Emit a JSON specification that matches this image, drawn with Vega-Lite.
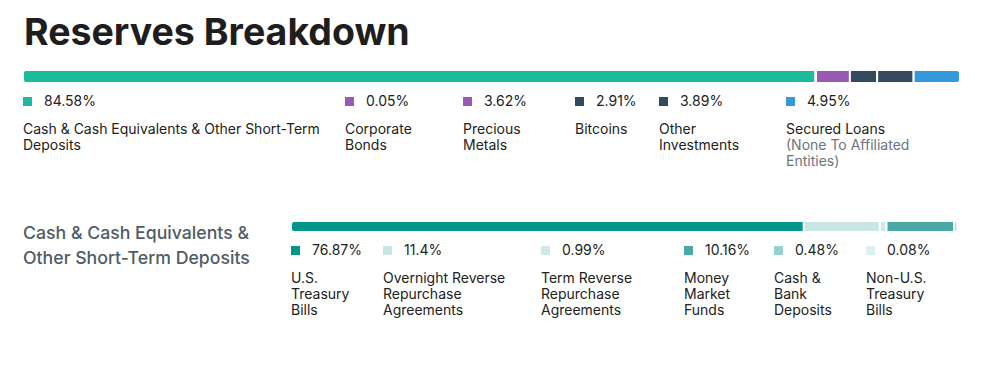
{
  "$schema": "https://vega.github.io/schema/vega-lite/v6.json",
  "background": "#ffffff",
  "padding": {"left": 22, "top": 14, "right": 25, "bottom": 10},
  "title": {"text": "Reserves Breakdown", "anchor": "start", "font": "Inter", "fontSize": 37.5, "fontWeight": 700, "color": "#1e1e1e", "baseline": "bottom", "offset": -21, "dx": 2},
  "config": {"font": "Inter", "view": {"stroke": null}},
  "datasets": {
    "reserves": [
      {"group": "top", "rank": 1, "item": "Cash & Cash Equivalents & Other Short-Term Deposits", "label": "Cash & Cash Equivalents & Other Short-Term\nDeposits", "share": 0.8458},
      {"group": "top", "rank": 2, "item": "Corporate Bonds", "label": "Corporate\nBonds", "share": 0.0005},
      {"group": "top", "rank": 3, "item": "Precious Metals", "label": "Precious\nMetals", "share": 0.0362},
      {"group": "top", "rank": 4, "item": "Bitcoins", "label": "Bitcoins", "share": 0.0291},
      {"group": "top", "rank": 5, "item": "Other Investments", "label": "Other\nInvestments", "share": 0.0389},
      {"group": "top", "rank": 6, "item": "Secured Loans", "label": "Secured Loans", "note": "(None To Affiliated\nEntities)", "share": 0.0495},
      {"group": "cash", "rank": 1, "item": "U.S. Treasury Bills", "label": "U.S.\nTreasury\nBills", "share": 0.7687},
      {"group": "cash", "rank": 2, "item": "Overnight Reverse Repurchase Agreements", "label": "Overnight Reverse\nRepurchase\nAgreements", "share": 0.114},
      {"group": "cash", "rank": 3, "item": "Term Reverse Repurchase Agreements", "label": "Term Reverse\nRepurchase\nAgreements", "share": 0.0099},
      {"group": "cash", "rank": 4, "item": "Money Market Funds", "label": "Money\nMarket\nFunds", "share": 0.1016},
      {"group": "cash", "rank": 5, "item": "Cash & Bank Deposits", "label": "Cash &\nBank\nDeposits", "share": 0.0048},
      {"group": "cash", "rank": 6, "item": "Non-U.S. Treasury Bills", "label": "Non-U.S.\nTreasury\nBills", "share": 0.0008}
    ],
    "headings": [
      {"heading": "Cash & Cash Equivalents &\nOther Short-Term Deposits"}
    ]
  },
  "spacing": 11,
  "vconcat": [
    {
      "width": 937, "height": 13,
      "data": {"name": "reserves"},
      "transform": [{"filter": {"field": "group", "equal": "top"}}],
      "mark": {"type": "bar", "cornerRadius": 3, "stroke": "#ffffff", "strokeWidth": 2},
      "encoding": {
        "x": {"field": "share", "type": "quantitative", "stack": "normalize", "axis": null},
        "y": {"field": "group", "type": "nominal", "axis": null, "scale": {"padding": 0}},
        "order": {"field": "rank", "type": "quantitative"},
        "color": {"field": "item", "type": "nominal", "legend": null, "scale": {"domain": ["Cash & Cash Equivalents & Other Short-Term Deposits", "Corporate Bonds", "Precious Metals", "Bitcoins", "Other Investments", "Secured Loans", "U.S. Treasury Bills", "Overnight Reverse Repurchase Agreements", "Term Reverse Repurchase Agreements", "Money Market Funds", "Cash & Bank Deposits", "Non-U.S. Treasury Bills"], "range": ["#1abc9c", "#9b59b6", "#9b59b6", "#34495e", "#34495e", "#3498db", "#00968a", "#c8e6e6", "#cce8e8", "#4aa9a7", "#96d2cf", "#e0f0f0"]}}
      }
    },
    {
      "spacing": 0,
      "hconcat": [
        {"width": 322, "height": 112, "data": {"name": "reserves"}, "transform": [{"filter": {"field": "item", "equal": "Cash & Cash Equivalents & Other Short-Term Deposits"}}],
         "encoding": {"x": {"field": "item", "type": "nominal", "axis": null, "scale": {"type": "point", "padding": 0, "align": 0}}, "y": {"field": "item", "type": "nominal", "axis": null, "scale": {"type": "point", "padding": 0, "align": 0}}},
         "layer": [
           {"mark": {"type": "point", "shape": "M0,0h2v2h-2z", "size": 81, "filled": true, "opacity": 1}, "encoding": {"color": {"field": "item", "type": "nominal", "legend": null, "scale": {"domain": ["Cash & Cash Equivalents & Other Short-Term Deposits", "Corporate Bonds", "Precious Metals", "Bitcoins", "Other Investments", "Secured Loans", "U.S. Treasury Bills", "Overnight Reverse Repurchase Agreements", "Term Reverse Repurchase Agreements", "Money Market Funds", "Cash & Bank Deposits", "Non-U.S. Treasury Bills"], "range": ["#1abc9c", "#9b59b6", "#9b59b6", "#34495e", "#34495e", "#3498db", "#00968a", "#c8e6e6", "#cce8e8", "#4aa9a7", "#96d2cf", "#e0f0f0"]}}}},
           {"mark": {"type": "text", "align": "left", "baseline": "alphabetic", "dx": 21, "dy": 9, "fontSize": 14, "color": "#222222"}, "encoding": {"text": {"field": "share", "type": "quantitative", "format": ".2~%"}}},
           {"mark": {"type": "text", "align": "left", "baseline": "alphabetic", "dy": 37, "fontSize": 14, "lineHeight": 16, "lineBreak": "\n", "color": "#222222"}, "encoding": {"text": {"field": "label"}}}
         ]},
        {"width": 118, "height": 112, "data": {"name": "reserves"}, "transform": [{"filter": {"field": "item", "equal": "Corporate Bonds"}}],
         "encoding": {"x": {"field": "item", "type": "nominal", "axis": null, "scale": {"type": "point", "padding": 0, "align": 0}}, "y": {"field": "item", "type": "nominal", "axis": null, "scale": {"type": "point", "padding": 0, "align": 0}}},
         "layer": [
           {"mark": {"type": "point", "shape": "M0,0h2v2h-2z", "size": 81, "filled": true, "opacity": 1}, "encoding": {"color": {"field": "item", "type": "nominal", "legend": null, "scale": {"domain": ["Cash & Cash Equivalents & Other Short-Term Deposits", "Corporate Bonds", "Precious Metals", "Bitcoins", "Other Investments", "Secured Loans", "U.S. Treasury Bills", "Overnight Reverse Repurchase Agreements", "Term Reverse Repurchase Agreements", "Money Market Funds", "Cash & Bank Deposits", "Non-U.S. Treasury Bills"], "range": ["#1abc9c", "#9b59b6", "#9b59b6", "#34495e", "#34495e", "#3498db", "#00968a", "#c8e6e6", "#cce8e8", "#4aa9a7", "#96d2cf", "#e0f0f0"]}}}},
           {"mark": {"type": "text", "align": "left", "baseline": "alphabetic", "dx": 21, "dy": 9, "fontSize": 14, "color": "#222222"}, "encoding": {"text": {"field": "share", "type": "quantitative", "format": ".2~%"}}},
           {"mark": {"type": "text", "align": "left", "baseline": "alphabetic", "dy": 37, "fontSize": 14, "lineHeight": 16, "lineBreak": "\n", "color": "#222222"}, "encoding": {"text": {"field": "label"}}}
         ]},
        {"width": 112, "height": 112, "data": {"name": "reserves"}, "transform": [{"filter": {"field": "item", "equal": "Precious Metals"}}],
         "encoding": {"x": {"field": "item", "type": "nominal", "axis": null, "scale": {"type": "point", "padding": 0, "align": 0}}, "y": {"field": "item", "type": "nominal", "axis": null, "scale": {"type": "point", "padding": 0, "align": 0}}},
         "layer": [
           {"mark": {"type": "point", "shape": "M0,0h2v2h-2z", "size": 81, "filled": true, "opacity": 1}, "encoding": {"color": {"field": "item", "type": "nominal", "legend": null, "scale": {"domain": ["Cash & Cash Equivalents & Other Short-Term Deposits", "Corporate Bonds", "Precious Metals", "Bitcoins", "Other Investments", "Secured Loans", "U.S. Treasury Bills", "Overnight Reverse Repurchase Agreements", "Term Reverse Repurchase Agreements", "Money Market Funds", "Cash & Bank Deposits", "Non-U.S. Treasury Bills"], "range": ["#1abc9c", "#9b59b6", "#9b59b6", "#34495e", "#34495e", "#3498db", "#00968a", "#c8e6e6", "#cce8e8", "#4aa9a7", "#96d2cf", "#e0f0f0"]}}}},
           {"mark": {"type": "text", "align": "left", "baseline": "alphabetic", "dx": 21, "dy": 9, "fontSize": 14, "color": "#222222"}, "encoding": {"text": {"field": "share", "type": "quantitative", "format": ".2~%"}}},
           {"mark": {"type": "text", "align": "left", "baseline": "alphabetic", "dy": 37, "fontSize": 14, "lineHeight": 16, "lineBreak": "\n", "color": "#222222"}, "encoding": {"text": {"field": "label"}}}
         ]},
        {"width": 84, "height": 112, "data": {"name": "reserves"}, "transform": [{"filter": {"field": "item", "equal": "Bitcoins"}}],
         "encoding": {"x": {"field": "item", "type": "nominal", "axis": null, "scale": {"type": "point", "padding": 0, "align": 0}}, "y": {"field": "item", "type": "nominal", "axis": null, "scale": {"type": "point", "padding": 0, "align": 0}}},
         "layer": [
           {"mark": {"type": "point", "shape": "M0,0h2v2h-2z", "size": 81, "filled": true, "opacity": 1}, "encoding": {"color": {"field": "item", "type": "nominal", "legend": null, "scale": {"domain": ["Cash & Cash Equivalents & Other Short-Term Deposits", "Corporate Bonds", "Precious Metals", "Bitcoins", "Other Investments", "Secured Loans", "U.S. Treasury Bills", "Overnight Reverse Repurchase Agreements", "Term Reverse Repurchase Agreements", "Money Market Funds", "Cash & Bank Deposits", "Non-U.S. Treasury Bills"], "range": ["#1abc9c", "#9b59b6", "#9b59b6", "#34495e", "#34495e", "#3498db", "#00968a", "#c8e6e6", "#cce8e8", "#4aa9a7", "#96d2cf", "#e0f0f0"]}}}},
           {"mark": {"type": "text", "align": "left", "baseline": "alphabetic", "dx": 21, "dy": 9, "fontSize": 14, "color": "#222222"}, "encoding": {"text": {"field": "share", "type": "quantitative", "format": ".2~%"}}},
           {"mark": {"type": "text", "align": "left", "baseline": "alphabetic", "dy": 37, "fontSize": 14, "lineHeight": 16, "lineBreak": "\n", "color": "#222222"}, "encoding": {"text": {"field": "label"}}}
         ]},
        {"width": 127, "height": 112, "data": {"name": "reserves"}, "transform": [{"filter": {"field": "item", "equal": "Other Investments"}}],
         "encoding": {"x": {"field": "item", "type": "nominal", "axis": null, "scale": {"type": "point", "padding": 0, "align": 0}}, "y": {"field": "item", "type": "nominal", "axis": null, "scale": {"type": "point", "padding": 0, "align": 0}}},
         "layer": [
           {"mark": {"type": "point", "shape": "M0,0h2v2h-2z", "size": 81, "filled": true, "opacity": 1}, "encoding": {"color": {"field": "item", "type": "nominal", "legend": null, "scale": {"domain": ["Cash & Cash Equivalents & Other Short-Term Deposits", "Corporate Bonds", "Precious Metals", "Bitcoins", "Other Investments", "Secured Loans", "U.S. Treasury Bills", "Overnight Reverse Repurchase Agreements", "Term Reverse Repurchase Agreements", "Money Market Funds", "Cash & Bank Deposits", "Non-U.S. Treasury Bills"], "range": ["#1abc9c", "#9b59b6", "#9b59b6", "#34495e", "#34495e", "#3498db", "#00968a", "#c8e6e6", "#cce8e8", "#4aa9a7", "#96d2cf", "#e0f0f0"]}}}},
           {"mark": {"type": "text", "align": "left", "baseline": "alphabetic", "dx": 21, "dy": 9, "fontSize": 14, "color": "#222222"}, "encoding": {"text": {"field": "share", "type": "quantitative", "format": ".2~%"}}},
           {"mark": {"type": "text", "align": "left", "baseline": "alphabetic", "dy": 37, "fontSize": 14, "lineHeight": 16, "lineBreak": "\n", "color": "#222222"}, "encoding": {"text": {"field": "label"}}}
         ]},
        {"width": 174, "height": 112, "data": {"name": "reserves"}, "transform": [{"filter": {"field": "item", "equal": "Secured Loans"}}],
         "encoding": {"x": {"field": "item", "type": "nominal", "axis": null, "scale": {"type": "point", "padding": 0, "align": 0}}, "y": {"field": "item", "type": "nominal", "axis": null, "scale": {"type": "point", "padding": 0, "align": 0}}},
         "layer": [
           {"mark": {"type": "point", "shape": "M0,0h2v2h-2z", "size": 81, "filled": true, "opacity": 1}, "encoding": {"color": {"field": "item", "type": "nominal", "legend": null, "scale": {"domain": ["Cash & Cash Equivalents & Other Short-Term Deposits", "Corporate Bonds", "Precious Metals", "Bitcoins", "Other Investments", "Secured Loans", "U.S. Treasury Bills", "Overnight Reverse Repurchase Agreements", "Term Reverse Repurchase Agreements", "Money Market Funds", "Cash & Bank Deposits", "Non-U.S. Treasury Bills"], "range": ["#1abc9c", "#9b59b6", "#9b59b6", "#34495e", "#34495e", "#3498db", "#00968a", "#c8e6e6", "#cce8e8", "#4aa9a7", "#96d2cf", "#e0f0f0"]}}}},
           {"mark": {"type": "text", "align": "left", "baseline": "alphabetic", "dx": 21, "dy": 9, "fontSize": 14, "color": "#222222"}, "encoding": {"text": {"field": "share", "type": "quantitative", "format": ".2~%"}}},
           {"mark": {"type": "text", "align": "left", "baseline": "alphabetic", "dy": 37, "fontSize": 14, "lineHeight": 16, "lineBreak": "\n", "color": "#222222"}, "encoding": {"text": {"field": "label"}}},
           {"mark": {"type": "text", "align": "left", "baseline": "alphabetic", "dy": 53, "fontSize": 14, "lineHeight": 16, "lineBreak": "\n", "color": "#6c757d"}, "encoding": {"text": {"field": "note"}}}
         ]}
      ]
    },
    {
      "spacing": 0,
      "hconcat": [
        {"width": 267, "height": 100, "data": {"name": "headings"},
         "mark": {"type": "text", "align": "left", "baseline": "alphabetic", "dy": 18, "fontSize": 17.7, "fontWeight": 500, "lineHeight": 25, "lineBreak": "\n", "color": "#515b66"},
         "encoding": {
           "x": {"field": "heading", "type": "nominal", "axis": null, "scale": {"type": "point", "padding": 0, "align": 0}},
           "y": {"field": "heading", "type": "nominal", "axis": null, "scale": {"type": "point", "padding": 0, "align": 0}},
           "text": {"field": "heading"}
         }},
        {
          "spacing": 11,
          "vconcat": [
            {
              "width": 667, "height": 11,
              "data": {"name": "reserves"},
              "transform": [{"filter": {"field": "group", "equal": "cash"}}],
              "mark": {"type": "bar", "cornerRadius": 3, "stroke": "#ffffff", "strokeWidth": 2},
              "encoding": {
                "x": {"field": "share", "type": "quantitative", "stack": "normalize", "axis": null},
                "y": {"field": "group", "type": "nominal", "axis": null, "scale": {"padding": 0}},
                "order": {"field": "rank", "type": "quantitative"},
                "color": {"field": "item", "type": "nominal", "legend": null, "scale": {"domain": ["Cash & Cash Equivalents & Other Short-Term Deposits", "Corporate Bonds", "Precious Metals", "Bitcoins", "Other Investments", "Secured Loans", "U.S. Treasury Bills", "Overnight Reverse Repurchase Agreements", "Term Reverse Repurchase Agreements", "Money Market Funds", "Cash & Bank Deposits", "Non-U.S. Treasury Bills"], "range": ["#1abc9c", "#9b59b6", "#9b59b6", "#34495e", "#34495e", "#3498db", "#00968a", "#c8e6e6", "#cce8e8", "#4aa9a7", "#96d2cf", "#e0f0f0"]}}
              }
            },
            {
              "spacing": 0,
              "hconcat": [
                {"width": 92, "height": 80, "data": {"name": "reserves"}, "transform": [{"filter": {"field": "item", "equal": "U.S. Treasury Bills"}}],
                 "encoding": {"x": {"field": "item", "type": "nominal", "axis": null, "scale": {"type": "point", "padding": 0, "align": 0}}, "y": {"field": "item", "type": "nominal", "axis": null, "scale": {"type": "point", "padding": 0, "align": 0}}},
                 "layer": [
                   {"mark": {"type": "point", "shape": "M0,0h2v2h-2z", "size": 81, "filled": true, "opacity": 1}, "encoding": {"color": {"field": "item", "type": "nominal", "legend": null, "scale": {"domain": ["Cash & Cash Equivalents & Other Short-Term Deposits", "Corporate Bonds", "Precious Metals", "Bitcoins", "Other Investments", "Secured Loans", "U.S. Treasury Bills", "Overnight Reverse Repurchase Agreements", "Term Reverse Repurchase Agreements", "Money Market Funds", "Cash & Bank Deposits", "Non-U.S. Treasury Bills"], "range": ["#1abc9c", "#9b59b6", "#9b59b6", "#34495e", "#34495e", "#3498db", "#00968a", "#c8e6e6", "#cce8e8", "#4aa9a7", "#96d2cf", "#e0f0f0"]}}}},
                   {"mark": {"type": "text", "align": "left", "baseline": "alphabetic", "dx": 21, "dy": 9, "fontSize": 14, "color": "#222222"}, "encoding": {"text": {"field": "share", "type": "quantitative", "format": ".2~%"}}},
                   {"mark": {"type": "text", "align": "left", "baseline": "alphabetic", "dy": 37, "fontSize": 14, "lineHeight": 16, "lineBreak": "\n", "color": "#222222"}, "encoding": {"text": {"field": "label"}}}
                 ]},
                {"width": 158, "height": 80, "data": {"name": "reserves"}, "transform": [{"filter": {"field": "item", "equal": "Overnight Reverse Repurchase Agreements"}}],
                 "encoding": {"x": {"field": "item", "type": "nominal", "axis": null, "scale": {"type": "point", "padding": 0, "align": 0}}, "y": {"field": "item", "type": "nominal", "axis": null, "scale": {"type": "point", "padding": 0, "align": 0}}},
                 "layer": [
                   {"mark": {"type": "point", "shape": "M0,0h2v2h-2z", "size": 81, "filled": true, "opacity": 1}, "encoding": {"color": {"field": "item", "type": "nominal", "legend": null, "scale": {"domain": ["Cash & Cash Equivalents & Other Short-Term Deposits", "Corporate Bonds", "Precious Metals", "Bitcoins", "Other Investments", "Secured Loans", "U.S. Treasury Bills", "Overnight Reverse Repurchase Agreements", "Term Reverse Repurchase Agreements", "Money Market Funds", "Cash & Bank Deposits", "Non-U.S. Treasury Bills"], "range": ["#1abc9c", "#9b59b6", "#9b59b6", "#34495e", "#34495e", "#3498db", "#00968a", "#c8e6e6", "#cce8e8", "#4aa9a7", "#96d2cf", "#e0f0f0"]}}}},
                   {"mark": {"type": "text", "align": "left", "baseline": "alphabetic", "dx": 21, "dy": 9, "fontSize": 14, "color": "#222222"}, "encoding": {"text": {"field": "share", "type": "quantitative", "format": ".2~%"}}},
                   {"mark": {"type": "text", "align": "left", "baseline": "alphabetic", "dy": 37, "fontSize": 14, "lineHeight": 16, "lineBreak": "\n", "color": "#222222"}, "encoding": {"text": {"field": "label"}}}
                 ]},
                {"width": 143, "height": 80, "data": {"name": "reserves"}, "transform": [{"filter": {"field": "item", "equal": "Term Reverse Repurchase Agreements"}}],
                 "encoding": {"x": {"field": "item", "type": "nominal", "axis": null, "scale": {"type": "point", "padding": 0, "align": 0}}, "y": {"field": "item", "type": "nominal", "axis": null, "scale": {"type": "point", "padding": 0, "align": 0}}},
                 "layer": [
                   {"mark": {"type": "point", "shape": "M0,0h2v2h-2z", "size": 81, "filled": true, "opacity": 1}, "encoding": {"color": {"field": "item", "type": "nominal", "legend": null, "scale": {"domain": ["Cash & Cash Equivalents & Other Short-Term Deposits", "Corporate Bonds", "Precious Metals", "Bitcoins", "Other Investments", "Secured Loans", "U.S. Treasury Bills", "Overnight Reverse Repurchase Agreements", "Term Reverse Repurchase Agreements", "Money Market Funds", "Cash & Bank Deposits", "Non-U.S. Treasury Bills"], "range": ["#1abc9c", "#9b59b6", "#9b59b6", "#34495e", "#34495e", "#3498db", "#00968a", "#c8e6e6", "#cce8e8", "#4aa9a7", "#96d2cf", "#e0f0f0"]}}}},
                   {"mark": {"type": "text", "align": "left", "baseline": "alphabetic", "dx": 21, "dy": 9, "fontSize": 14, "color": "#222222"}, "encoding": {"text": {"field": "share", "type": "quantitative", "format": ".2~%"}}},
                   {"mark": {"type": "text", "align": "left", "baseline": "alphabetic", "dy": 37, "fontSize": 14, "lineHeight": 16, "lineBreak": "\n", "color": "#222222"}, "encoding": {"text": {"field": "label"}}}
                 ]},
                {"width": 90, "height": 80, "data": {"name": "reserves"}, "transform": [{"filter": {"field": "item", "equal": "Money Market Funds"}}],
                 "encoding": {"x": {"field": "item", "type": "nominal", "axis": null, "scale": {"type": "point", "padding": 0, "align": 0}}, "y": {"field": "item", "type": "nominal", "axis": null, "scale": {"type": "point", "padding": 0, "align": 0}}},
                 "layer": [
                   {"mark": {"type": "point", "shape": "M0,0h2v2h-2z", "size": 81, "filled": true, "opacity": 1}, "encoding": {"color": {"field": "item", "type": "nominal", "legend": null, "scale": {"domain": ["Cash & Cash Equivalents & Other Short-Term Deposits", "Corporate Bonds", "Precious Metals", "Bitcoins", "Other Investments", "Secured Loans", "U.S. Treasury Bills", "Overnight Reverse Repurchase Agreements", "Term Reverse Repurchase Agreements", "Money Market Funds", "Cash & Bank Deposits", "Non-U.S. Treasury Bills"], "range": ["#1abc9c", "#9b59b6", "#9b59b6", "#34495e", "#34495e", "#3498db", "#00968a", "#c8e6e6", "#cce8e8", "#4aa9a7", "#96d2cf", "#e0f0f0"]}}}},
                   {"mark": {"type": "text", "align": "left", "baseline": "alphabetic", "dx": 21, "dy": 9, "fontSize": 14, "color": "#222222"}, "encoding": {"text": {"field": "share", "type": "quantitative", "format": ".2~%"}}},
                   {"mark": {"type": "text", "align": "left", "baseline": "alphabetic", "dy": 37, "fontSize": 14, "lineHeight": 16, "lineBreak": "\n", "color": "#222222"}, "encoding": {"text": {"field": "label"}}}
                 ]},
                {"width": 92, "height": 80, "data": {"name": "reserves"}, "transform": [{"filter": {"field": "item", "equal": "Cash & Bank Deposits"}}],
                 "encoding": {"x": {"field": "item", "type": "nominal", "axis": null, "scale": {"type": "point", "padding": 0, "align": 0}}, "y": {"field": "item", "type": "nominal", "axis": null, "scale": {"type": "point", "padding": 0, "align": 0}}},
                 "layer": [
                   {"mark": {"type": "point", "shape": "M0,0h2v2h-2z", "size": 81, "filled": true, "opacity": 1}, "encoding": {"color": {"field": "item", "type": "nominal", "legend": null, "scale": {"domain": ["Cash & Cash Equivalents & Other Short-Term Deposits", "Corporate Bonds", "Precious Metals", "Bitcoins", "Other Investments", "Secured Loans", "U.S. Treasury Bills", "Overnight Reverse Repurchase Agreements", "Term Reverse Repurchase Agreements", "Money Market Funds", "Cash & Bank Deposits", "Non-U.S. Treasury Bills"], "range": ["#1abc9c", "#9b59b6", "#9b59b6", "#34495e", "#34495e", "#3498db", "#00968a", "#c8e6e6", "#cce8e8", "#4aa9a7", "#96d2cf", "#e0f0f0"]}}}},
                   {"mark": {"type": "text", "align": "left", "baseline": "alphabetic", "dx": 21, "dy": 9, "fontSize": 14, "color": "#222222"}, "encoding": {"text": {"field": "share", "type": "quantitative", "format": ".2~%"}}},
                   {"mark": {"type": "text", "align": "left", "baseline": "alphabetic", "dy": 37, "fontSize": 14, "lineHeight": 16, "lineBreak": "\n", "color": "#222222"}, "encoding": {"text": {"field": "label"}}}
                 ]},
                {"width": 92, "height": 80, "data": {"name": "reserves"}, "transform": [{"filter": {"field": "item", "equal": "Non-U.S. Treasury Bills"}}],
                 "encoding": {"x": {"field": "item", "type": "nominal", "axis": null, "scale": {"type": "point", "padding": 0, "align": 0}}, "y": {"field": "item", "type": "nominal", "axis": null, "scale": {"type": "point", "padding": 0, "align": 0}}},
                 "layer": [
                   {"mark": {"type": "point", "shape": "M0,0h2v2h-2z", "size": 81, "filled": true, "opacity": 1}, "encoding": {"color": {"field": "item", "type": "nominal", "legend": null, "scale": {"domain": ["Cash & Cash Equivalents & Other Short-Term Deposits", "Corporate Bonds", "Precious Metals", "Bitcoins", "Other Investments", "Secured Loans", "U.S. Treasury Bills", "Overnight Reverse Repurchase Agreements", "Term Reverse Repurchase Agreements", "Money Market Funds", "Cash & Bank Deposits", "Non-U.S. Treasury Bills"], "range": ["#1abc9c", "#9b59b6", "#9b59b6", "#34495e", "#34495e", "#3498db", "#00968a", "#c8e6e6", "#cce8e8", "#4aa9a7", "#96d2cf", "#e0f0f0"]}}}},
                   {"mark": {"type": "text", "align": "left", "baseline": "alphabetic", "dx": 21, "dy": 9, "fontSize": 14, "color": "#222222"}, "encoding": {"text": {"field": "share", "type": "quantitative", "format": ".2~%"}}},
                   {"mark": {"type": "text", "align": "left", "baseline": "alphabetic", "dy": 37, "fontSize": 14, "lineHeight": 16, "lineBreak": "\n", "color": "#222222"}, "encoding": {"text": {"field": "label"}}}
                 ]}
              ]
            }
          ]
        }
      ]
    }
  ]
}
